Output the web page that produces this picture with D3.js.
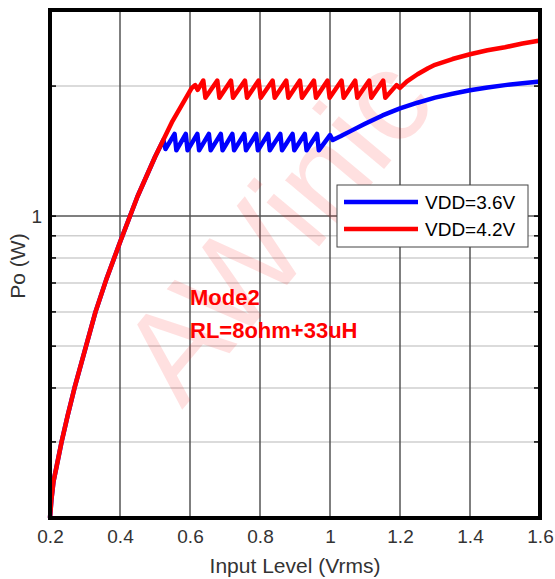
<!DOCTYPE html>
<html>
<head>
<meta charset="utf-8">
<script src="https://cdn.jsdelivr.net/npm/d3@7"></script>
<style>
  body { margin: 0; background: #fff; }
  svg { display: block; font-family: "Liberation Sans", Arial, sans-serif; }
</style>
</head>
<body>
<div id="chart"></div>
<script>
// tick values
const xTicks = [0.2, 0.4, 0.6, 0.8, 1.0, 1.2, 1.4, 1.6];
const yMajor = [1];
const yMinor = [0.3, 0.4, 0.5, 0.6, 0.7, 0.8, 0.9, 2];

// VDD=3.6V  (input Vrms -> Po W)
const blueX = [0.2, 0.204, 0.21, 0.22, 0.233, 0.25, 0.27, 0.3, 0.33, 0.36, 0.4, 0.45, 0.5, 0.524, 0.53,
  0.556, 0.561, 0.588, 0.593, 0.621, 0.626, 0.654, 0.659, 0.688, 0.693, 0.721, 0.726,
  0.755, 0.76, 0.789, 0.794, 0.823, 0.828, 0.858, 0.863, 0.893, 0.898, 0.928, 0.933,
  0.963, 0.968, 1.0, 1.008, 1.03, 1.06, 1.1, 1.15, 1.2, 1.25, 1.3, 1.35, 1.4, 1.45, 1.5, 1.55, 1.6];
const bluePo = [0.2, 0.22, 0.243, 0.266, 0.3, 0.344, 0.4, 0.49, 0.6, 0.71, 0.87, 1.11, 1.37, 1.5, 1.43,
  1.55, 1.42, 1.55, 1.42, 1.55, 1.42, 1.55, 1.42, 1.55, 1.42, 1.55, 1.42,
  1.55, 1.42, 1.55, 1.42, 1.55, 1.42, 1.55, 1.42, 1.55, 1.42, 1.55, 1.42,
  1.55, 1.42, 1.54, 1.5, 1.53, 1.575, 1.635, 1.71, 1.775, 1.83, 1.88, 1.92, 1.955, 1.985, 2.01, 2.03, 2.05];

// VDD=4.2V
const redX = [0.2, 0.204, 0.21, 0.22, 0.233, 0.25, 0.27, 0.3, 0.33, 0.36, 0.4, 0.45, 0.5, 0.55, 0.605, 0.615, 0.622,
  0.638, 0.644, 0.678, 0.684, 0.717, 0.723, 0.757, 0.763, 0.796, 0.802, 0.836, 0.842,
  0.875, 0.881, 0.914, 0.92, 0.954, 0.96, 0.993, 0.999, 1.033, 1.039, 1.072, 1.078,
  1.112, 1.118, 1.152, 1.158, 1.19, 1.2, 1.22, 1.25, 1.28, 1.3, 1.35, 1.4, 1.45, 1.5, 1.55, 1.6];
const redPo = [0.2, 0.22, 0.243, 0.266, 0.3, 0.344, 0.4, 0.49, 0.6, 0.71, 0.87, 1.11, 1.37, 1.66, 1.98, 2.01, 1.96,
  2.06, 1.88, 2.06, 1.88, 2.06, 1.88, 2.06, 1.88, 2.06, 1.88, 2.06, 1.88,
  2.06, 1.88, 2.06, 1.88, 2.06, 1.88, 2.06, 1.88, 2.06, 1.88, 2.06, 1.88,
  2.06, 1.88, 2.06, 1.88, 2.01, 1.98, 2.05, 2.13, 2.2, 2.24, 2.31, 2.37, 2.42, 2.46, 2.51, 2.55];

const seriesNames = ["VDD=3.6V", "VDD=4.2V"];
const seriesColors = ["#0000ff", "#ff0000"];
const noteLines = ["Mode2", "RL=8ohm+33uH"];

const W = 555, H = 579;
const svg = d3.select("#chart").append("svg").attr("width", W).attr("height", H);

const x = d3.scaleLinear().domain([0.2, 1.6]).range([50, 540]);
const y = d3.scaleLog().domain([0.2, 3]).range([518, 10]);

// grid
const grid = svg.append("g");
grid.selectAll(".hmin").data(yMinor).enter().append("line")
  .attr("x1", x.range()[0]).attr("x2", x.range()[1])
  .attr("y1", d => y(d)).attr("y2", d => y(d))
  .attr("stroke", "#cfcfcf").attr("stroke-width", 1.5);
grid.selectAll(".hmaj").data(yMajor).enter().append("line")
  .attr("x1", x.range()[0]).attr("x2", x.range()[1])
  .attr("y1", d => y(d)).attr("y2", d => y(d))
  .attr("stroke", "#555").attr("stroke-width", 1.5);
grid.selectAll(".v").data(xTicks.slice(1, -1)).enter().append("line")
  .attr("x1", d => x(d)).attr("x2", d => x(d))
  .attr("y1", y.range()[0]).attr("y2", y.range()[1])
  .attr("stroke", "#555").attr("stroke-width", 1.5);

// watermark
svg.append("text")
  .attr("transform", "translate(182,410) rotate(-50)")
  .attr("font-size", 130)
  .attr("fill", "#ff0000").attr("fill-opacity", 0.12)
  .text("AWinic");

// inner ticks on left/right
const ticks = svg.append("g");
ticks.selectAll(".tl").data(yMinor.concat(yMajor)).enter().append("line")
  .attr("x1", 50).attr("x2", 56).attr("y1", d => y(d)).attr("y2", d => y(d))
  .attr("stroke", "#000").attr("stroke-width", 1.5);
ticks.selectAll(".tr").data(yMinor.concat(yMajor)).enter().append("line")
  .attr("x1", 534).attr("x2", 540).attr("y1", d => y(d)).attr("y2", d => y(d))
  .attr("stroke", "#000").attr("stroke-width", 1.5);

// curves
const line = d3.line().x(d => x(d[0])).y(d => y(d[1]));
const series = [d3.zip(blueX, bluePo), d3.zip(redX, redPo)];
svg.selectAll(".curve").data(series).enter().append("path")
  .attr("d", line)
  .attr("fill", "none")
  .attr("stroke", (d, i) => seriesColors[i])
  .attr("stroke-width", 4.5)
  .attr("stroke-linejoin", "round");

// frame
svg.append("rect")
  .attr("x", 50).attr("y", 10).attr("width", 490).attr("height", 508)
  .attr("fill", "none").attr("stroke", "#000").attr("stroke-width", 4);

// axes labels
const xAxis = d3.axisBottom(x).tickValues(xTicks).tickSize(0).tickPadding(12)
  .tickFormat(d3.format("~g"));
const gx = svg.append("g").attr("transform", "translate(0,518)").call(xAxis);
gx.select(".domain").remove();
gx.selectAll("text").attr("font-size", 19).attr("fill", "#333")
  .attr("font-family", "Liberation Sans, Arial, sans-serif");

const yAxis = d3.axisLeft(y).tickValues(yMajor).tickSize(0).tickPadding(8)
  .tickFormat(d3.format("~g"));
const gy = svg.append("g").attr("transform", "translate(50,0)").call(yAxis);
gy.select(".domain").remove();
gy.selectAll("text").attr("font-size", 19).attr("fill", "#333")
  .attr("font-family", "Liberation Sans, Arial, sans-serif");

svg.append("text").attr("x", 295).attr("y", 573).attr("text-anchor", "middle")
  .attr("font-size", 21).attr("fill", "#333").text("Input Level (Vrms)");
svg.append("text").attr("transform", "translate(25,266) rotate(-90)")
  .attr("text-anchor", "middle").attr("font-size", 21).attr("fill", "#333").text("Po (W)");

// note
svg.selectAll(".note").data(noteLines).enter().append("text")
  .attr("x", 190).attr("y", (d, i) => 305 + i * 33)
  .attr("font-size", 22).attr("font-weight", "bold").attr("fill", "#ff0000")
  .text(d => d);

// legend
const lg = svg.append("g").attr("transform", "translate(337,185)");
lg.append("rect").attr("width", 191).attr("height", 62)
  .attr("fill", "#fff").attr("stroke", "#444").attr("stroke-width", 1);
const items = lg.selectAll(".item").data(seriesNames).enter().append("g")
  .attr("transform", (d, i) => `translate(0,${17 + i * 27})`);
items.append("line").attr("x1", 7).attr("x2", 81)
  .attr("stroke", (d, i) => seriesColors[i]).attr("stroke-width", 4.5);
items.append("text").attr("x", 88).attr("y", 7)
  .attr("font-size", 19).attr("fill", "#000").text(d => d);
</script>
</body>
</html>
